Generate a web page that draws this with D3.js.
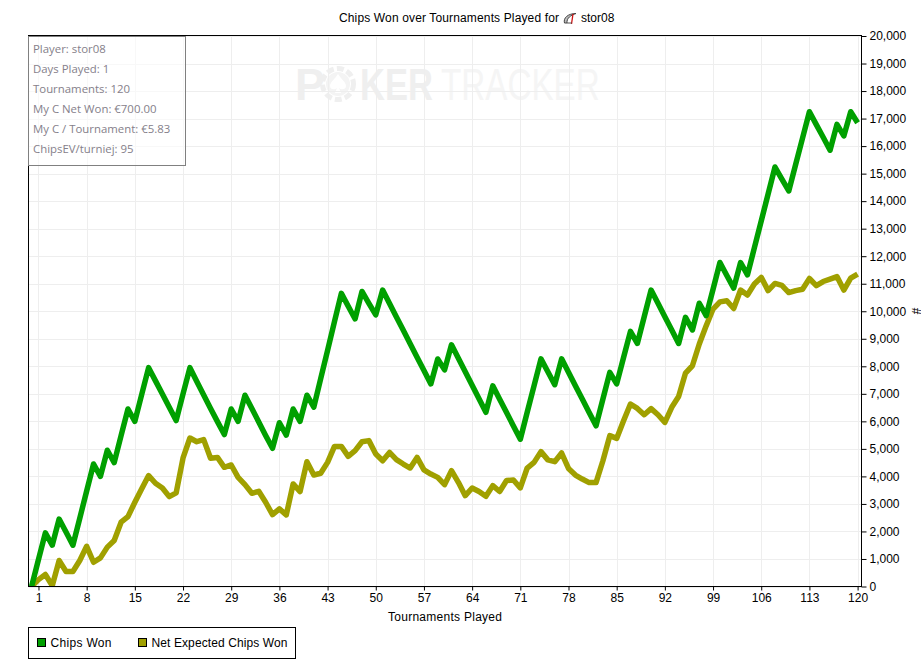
<!DOCTYPE html>
<html>
<head>
<meta charset="utf-8">
<script src="https://cdn.jsdelivr.net/npm/d3@7"></script>
<style>
html,body{margin:0;padding:0;background:#fff;}
svg{display:block;}
text{font-family:"Liberation Sans",Arial,sans-serif;font-size:12px;fill:#000;}
</style>
</head>
<body>
<svg id="c" width="921" height="670"></svg>
<script>
const chipsWon = [0,980,1950,1500,2450,1980,1500,2480,3470,4450,4000,4950,4500,5480,6450,6000,6980,7950,7470,6990,6510,6030,7000,7950,7450,6960,6470,5990,5520,6450,6000,6950,6470,5980,5490,5020,5950,5500,6450,6000,6950,6520,7550,8580,9620,10650,10180,9720,10720,10290,9870,10770,10280,9790,9310,8820,8330,7850,7360,8265,7870,8780,8290,7800,7310,6820,6330,7290,6800,6320,5830,5350,6330,7300,8270,7800,7330,8270,7780,7290,6810,6320,5840,6810,7780,7360,8320,9270,8830,9800,10770,10290,9800,9320,8830,9780,9320,10290,9840,10800,11770,11300,10840,11770,11320,12300,13280,14260,15240,14800,14370,15330,16290,17250,16780,16320,15850,16790,16370,17250,16850];
const netExpected = [0,250,435,30,945,545,545,945,1460,880,1040,1430,1670,2335,2540,3060,3555,4030,3750,3580,3265,3400,4670,5395,5260,5335,4660,4690,4330,4415,3965,3700,3385,3460,3060,2610,2820,2600,3725,3450,4535,4050,4115,4510,5090,5090,4730,4935,5260,5300,4815,4570,4870,4610,4450,4305,4690,4235,4085,3965,3700,4210,3785,3300,3580,3450,3275,3665,3450,3850,3870,3580,4305,4510,4900,4600,4535,4850,4290,4050,3905,3775,3775,4570,5480,5380,6025,6630,6470,6240,6460,6240,5960,6510,6905,7755,8020,8810,9470,10080,10340,10380,10100,10770,10590,10990,11230,10750,11010,10940,10680,10750,10800,11190,10930,11080,11170,11260,10770,11200,11350];
const xTicks = [1,8,15,22,29,36,43,50,57,64,71,78,85,92,99,106,113,120];
const yTicks = [0,1000,2000,3000,4000,5000,6000,7000,8000,9000,10000,11000,12000,13000,14000,15000,16000,17000,18000,19000,20000];
const infoLines = ["Player: stor08","Days Played: 1","Tournaments: 120","My C Net Won: €700.00","My C / Tournament: €5.83","ChipsEV/turniej: 95"];
const seriesNames = ["Chips Won","Net Expected Chips Won"];
const seriesColors = ["#00a000","#a0a000"];

const L=28.5,R=861.5,T=35.5,B=586.5;
const svg=d3.select("#c");
const x=d3.scaleLinear().domain([0,120]).range([31.6,857.6]);
const y=d3.scaleLinear().domain([0,20000]).range([586.5,36]);

// watermark
const wm=svg.append("g");
wm.append("text").attr("transform","translate(295,100) scale(1.02,1)")
  .style("font-size","44px").style("font-weight","bold").style("fill","#efefef").text("P");
wm.append("text").attr("transform","translate(360,100) scale(0.785,1)")
  .style("font-size","44px").style("font-weight","bold").style("fill","#efefef").text("KER");
wm.append("text").attr("transform","translate(441,100) scale(0.755,1)")
  .style("font-size","44px").style("fill","#f5f5f5").text("TRACKER");
wm.append("circle").attr("cx",338).attr("cy",84).attr("r",15.5).attr("fill","none").attr("stroke","#efefef").attr("stroke-width",5).attr("stroke-dasharray","7 3.2");
wm.append("circle").attr("cx",338).attr("cy",84).attr("r",12).attr("fill","#f4f4f4");
wm.append("path").attr("fill","#fff").attr("d","M338 74 C341 79 346 82 346 86 C346 90 341 90 339 88 L341 93 L335 93 L337 88 C335 90 330 90 330 86 C330 82 335 79 338 74Z");

// grid
svg.append("g").selectAll("line").data(xTicks).join("line")
  .attr("x1",d=>Math.round(x(d))+.5).attr("x2",d=>Math.round(x(d))+.5).attr("y1",T).attr("y2",B)
  .attr("stroke","#eeeeee");
svg.append("g").selectAll("line").data(yTicks).join("line")
  .attr("x1",L).attr("x2",R).attr("y1",d=>Math.round(y(d))+.5).attr("y2",d=>Math.round(y(d))+.5)
  .attr("stroke","#eeeeee");

// series
svg.append("clipPath").attr("id","plot").append("rect").attr("x",L).attr("y",T).attr("width",R-L).attr("height",B-T);
const line=d3.line().x((d,i)=>x(i)).y(d=>y(d));
[netExpected,chipsWon].forEach((s,k)=>{
  svg.append("path").attr("d",line(s)).attr("fill","none").attr("clip-path","url(#plot)")
    .attr("stroke",seriesColors[1-k]).attr("stroke-width",5.5).attr("stroke-linejoin","round");
});

// frame
svg.append("rect").attr("x",L).attr("y",T).attr("width",R-L).attr("height",B-T).attr("fill","none").attr("stroke","#000");

// axes
const ax=svg.append("g").attr("transform",`translate(0,${B})`)
  .call(d3.axisBottom(x).tickValues(xTicks).tickSize(4).tickPadding(3).tickSizeOuter(0));
const ay=svg.append("g").attr("transform",`translate(${R},0)`)
  .call(d3.axisRight(y).tickValues(yTicks).tickSize(5).tickPadding(3).tickSizeOuter(0).tickFormat(d3.format(",")));
[ax,ay].forEach(g=>{g.select(".domain").remove();g.attr("font-family",null).attr("font-size",null);
  g.selectAll("line").attr("stroke","#000");g.selectAll("text").attr("fill","#000");});

// titles
svg.append("text").attr("x",339).attr("y",22).attr("textLength",220).text("Chips Won over Tournaments Played for");
svg.append("text").attr("x",581).attr("y",22).text("stor08");
const ic=svg.append("g");
ic.append("path").attr("d","M564.5 23 C563 18 568 13.5 576 13.5 C571 15 566.5 18 567 23Z").attr("fill","#bbb").attr("stroke","#444").attr("stroke-width",1);
ic.append("path").attr("d","M573 14 L571.5 24").attr("fill","none").attr("stroke","#d01010").attr("stroke-width",1.3);
ic.append("path").attr("d","M567 23 L572 23").attr("fill","none").attr("stroke","#555").attr("stroke-width",1);
svg.append("text").attr("x",388).attr("y",621).attr("textLength",114).text("Tournaments Played");
svg.append("text").attr("transform","translate(911.5,311) rotate(90)").attr("text-anchor","middle").text("#");

// info box
svg.append("rect").attr("x",L).attr("y",36.5).attr("width",157).attr("height",129)
  .attr("fill","rgba(255,255,255,0.6)").attr("stroke","#808080");
svg.append("g").selectAll("text").data(infoLines).join("text")
  .attr("x",33).attr("y",(d,i)=>53+i*20)
  .style("font-family","'Open Sans',sans-serif").style("font-size","11.4px").style("fill","#85808a").text(d=>d);

// legend
svg.append("rect").attr("x",L).attr("y",627.5).attr("width",267).attr("height",31).attr("fill","#fff").attr("stroke","#000");
const legX=[37.5,138.5];
const legLen=[61,136];
seriesNames.forEach((n,i)=>{
  svg.append("rect").attr("x",legX[i]).attr("y",638.5).attr("width",8).attr("height",8).attr("fill",seriesColors[i]).attr("stroke","#000");
  svg.append("text").attr("x",legX[i]+13).attr("y",647).attr("textLength",legLen[i]).text(n);
});
</script>
</body>
</html>
